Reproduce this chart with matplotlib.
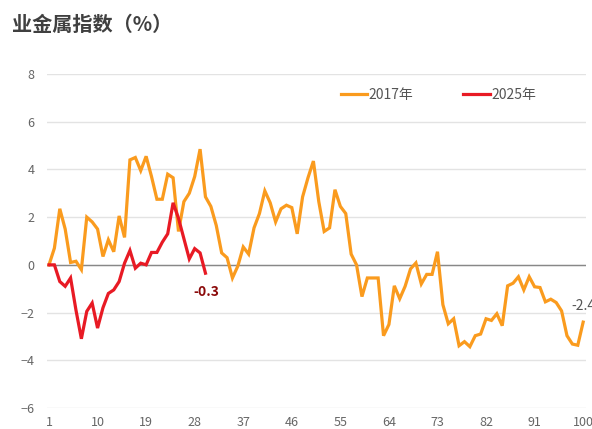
import matplotlib
matplotlib.use('Agg')
import matplotlib.pyplot as plt
import numpy as np

plt.rcParams['font.family'] = ['Noto Sans CJK SC', 'DejaVu Sans']

# 2017年 走势（共100期）
y2017 = [0.0, 0.7, 2.35, 1.5, 0.1, 0.15, -0.2, 2.0, 1.8, 1.5,
         0.35, 1.05, 0.55, 2.05, 1.15, 4.4, 4.5, 3.95, 4.55, 3.7,
         2.75, 2.75, 3.8, 3.65, 1.4, 2.65, 3.0, 3.7, 4.85, 2.85,
         2.45, 1.65, 0.5, 0.3, -0.55, -0.05, 0.75, 0.45, 1.55, 2.15,
         3.1, 2.6, 1.8, 2.35, 2.5, 2.4, 1.3, 2.85, 3.65, 4.35,
         2.65, 1.4, 1.55, 3.15, 2.45, 2.15, 0.45, 0.0, -1.33, -0.55,
         -0.55, -0.55, -2.97, -2.5, -0.88, -1.42, -0.9, -0.17, 0.08, -0.8,
         -0.4, -0.4, 0.55, -1.67, -2.47, -2.26, -3.39, -3.22, -3.43, -2.97,
         -2.9, -2.26, -2.33, -2.05, -2.55, -0.88, -0.77, -0.5, -1.05, -0.5,
         -0.92, -0.95, -1.55, -1.44, -1.58, -1.93, -2.97, -3.32, -3.37, -2.4]
# 2025年 走势（共30期）
y2025 = [0.0, 0.0, -0.7, -0.9, -0.55, -1.9, -3.1, -1.95, -1.6, -2.65,
         -1.8, -1.2, -1.05, -0.7, 0.07, 0.6, -0.14, 0.07, 0.0, 0.52,
         0.52, 0.95, 1.3, 2.6, 1.95, 1.1, 0.25, 0.68, 0.5, -0.35]
x_ticks = [1, 10, 19, 28, 37, 46, 55, 64, 73, 82, 91, 100]
y_ticks = [-6, -4, -2, 0, 2, 4, 6, 8]

c_orange = "#FA9B1E"
c_red = "#E81A24"

fig = plt.figure(figsize=(5.92, 4.29), dpi=100)
ax = fig.add_axes([0.0794, 0.049, 0.9106, 0.7785])

x1 = np.arange(1, len(y2017) + 1)
x2 = np.arange(1, len(y2025) + 1)
ax.plot(x1, y2017, color=c_orange, linewidth=2.3, label="2017年", solid_joinstyle='miter')
ax.plot(x2, y2025, color=c_red, linewidth=2.3, label="2025年", solid_joinstyle='miter')

# 末值标注
ax.text(x2[-1] + 0.1, y2025[-1] - 0.8, "-0.3", color="#8B0A0A", fontsize=10,
        fontweight='bold', ha='center', va='center')
ax.text(x1[-1] - 2.2, y2017[-1] + 0.68, "-2.4", color="#555555", fontsize=10,
        ha='left', va='center', clip_on=False)

ax.set_xlim(0.63, 100.54)
ax.set_ylim(-6, 8)
ax.set_xticks(x_ticks)
ax.set_yticks(y_ticks)
ax.tick_params(axis='both', length=0, labelsize=9, colors="#666666")
ax.tick_params(axis='y', pad=9)
ax.tick_params(axis='x', pad=6)
for s in ax.spines.values():
    s.set_visible(False)
ax.grid(axis='y', color="#E3E3E3", linewidth=1.0)
ax.grid(axis='x', visible=False)
ax.axhline(0, color="#888888", linewidth=1.0, zorder=1)
ax.set_axisbelow(True)

leg = ax.legend(loc='upper left', bbox_to_anchor=(0.522, 0.995), ncol=2, frameon=False,
                fontsize=10, handlelength=1.9, handletextpad=0.1, columnspacing=3.6,
                labelcolor="#555555")

fig.text(0.02, 0.942, "业金属指数（%）", fontsize=14.5, fontweight='bold',
         color="#404040", ha='left', va='center')

fig.savefig("out.png", dpi=100)
